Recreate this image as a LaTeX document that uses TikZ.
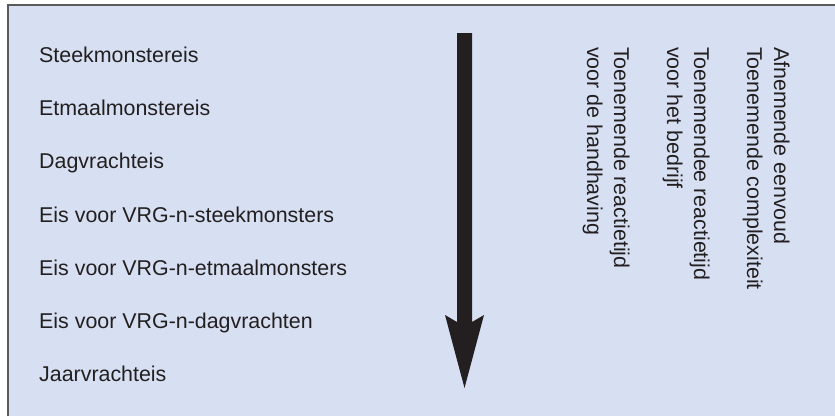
\documentclass[tikz,border=0pt]{standalone}
\usepackage{fontspec}
\setmainfont{Liberation Sans}
\definecolor{bg}{HTML}{D7E0F2}
\definecolor{ink}{HTML}{231F20}
\definecolor{frame}{HTML}{5A5A5A}
\begin{document}
\begin{tikzpicture}[x=1pt,y=1pt,
  lbl/.style={font=\fontsize{21.4}{25}\selectfont, text=ink, inner sep=0pt, anchor=base west},
  vlbl/.style={lbl, rotate=-90}]
\useasboundingbox (0,0) rectangle (835,-416);
\fill[bg] (8,-5) rectangle (835,-416);
\draw[line width=1.5pt, draw=frame] (8,-416) -- (8,-5) -- (835,-5);
% left list
\node[lbl] (l1) at (39,-62) {Steekmonstereis};
\node[lbl] (l2) at (39,-115.3) {Etmaalmonstereis};
\node[lbl] (l3) at (39,-168.6) {Dagvrachteis};
\node[lbl] (l4) at (39,-222) {Eis voor VRG-n-steekmonsters};
\node[lbl] (l5) at (39,-275.2) {Eis voor VRG-n-etmaalmonsters};
\node[lbl] (l6) at (39,-328.5) {Eis voor VRG-n-dagvrachten};
\node[lbl] (l7) at (39,-381.5) {Jaarvrachteis};
% arrow
\coordinate (atop) at (464.5,-33);
\coordinate (atip) at (464.5,-388);
\fill[ink] (457,-33) -- (472,-33) -- (472,-322) -- (484,-315) -- (atip) -- (445,-315) -- (457,-322) -- cycle;
% vertical texts
\node[vlbl] (v1a) at (774,-47) {Afnemende eenvoud};
\node[vlbl] (v1b) at (747,-47) {Toenemende complexiteit};
\node[vlbl] (v2a) at (694,-47) {Toenemendee reactietijd};
\node[vlbl] (v2b) at (667,-47) {voor het bedrijf};
\node[vlbl] (v3a) at (614,-47) {Toenemende reactietijd};
\node[vlbl] (v3b) at (587,-47) {voor de handhaving};
\end{tikzpicture}
\end{document}
